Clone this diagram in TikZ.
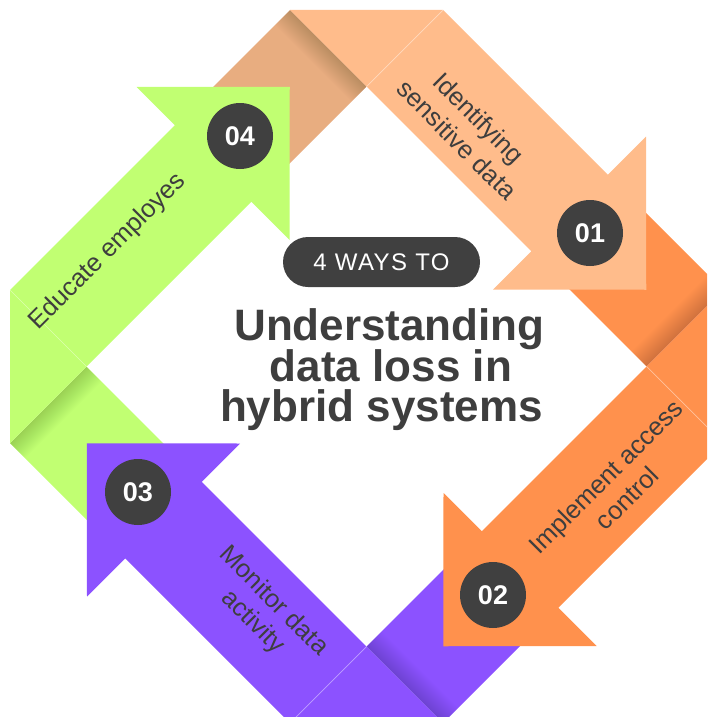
\documentclass[tikz,border=0pt]{standalone}
\usepackage{fontspec}
\setmainfont{Liberation Sans}
\newfontfamily\waysfont[LetterSpace=6]{Liberation Sans}
\definecolor{cPeach}{HTML}{FFBC8B}
\definecolor{cTan}{HTML}{E8AD80}
\definecolor{cOrange}{HTML}{FF914D}
\definecolor{cPurple}{HTML}{8C52FF}
\definecolor{cGreen}{HTML}{C1FF72}
\definecolor{cDark}{HTML}{404040}
\definecolor{cText}{HTML}{3E3E3E}
\tikzset{
  badge/.style={circle, fill=cDark, minimum size=66pt, inner sep=0pt, text=white,
    font=\fontsize{27}{27}\selectfont\bfseries},
  steplabel/.style={align=center, text=cText, inner sep=0pt,
    font=\fontsize{25.5}{30}\selectfont},
  titleline/.style={anchor=base, text=cText, inner sep=0pt,
    font=\fontsize{44}{44}\selectfont\bfseries},
  pill/.style={fill=cDark, rounded corners=25pt, minimum width=197pt,
    minimum height=50pt, inner sep=0pt, text=white,
    font=\waysfont\fontsize{24}{24}\selectfont},
  crease/.style={white, opacity=0.45, line width=0.7pt},
  foldshade/.style={black, opacity=0.013},
}
\begin{document}
\begin{tikzpicture}[x=1pt,y=-1pt]
\useasboundingbox (0,0) rectangle (707,717);
\clip (0,0) rectangle (707,717);
\fill[white] (0,0) rectangle (707,717);
% back parts of the ribbons (under the previous arrow head)
\foreach \k/\bc in {0/cTan,1/cOrange,2/cPurple,3/cGreen}{
  \begin{scope}[shift={(366.5pt,-366.5pt)}]
  \begin{scope}[rotate=-90*\k]
  \begin{scope}[x={(0.5pt,0.5pt)},y={(0.5pt,-0.5pt)}]
    \fill[\bc] (80,-433) -- (280,-433) -- (280,-280) -- (80,-280) -- cycle;
    \foreach \t in {2,4,...,30}
      \fill[foldshade] ({280-\t},-433) -- (280,-433) -- (280,-280) -- ({280-\t},-280) -- cycle;
  \end{scope}\end{scope}\end{scope}
}
% front parts with arrow heads
\foreach \k/\fc in {0/cPeach,1/cOrange,2/cPurple,3/cGreen}{
  \begin{scope}[shift={(366.5pt,-366.5pt)}]
  \begin{scope}[rotate=-90*\k]
  \begin{scope}[x={(0.5pt,0.5pt)},y={(0.5pt,-0.5pt)}]
    \fill[\fc] (280,-433) -- (433,-280) -- (433,49.5) -- (509.5,49.5)
      -- (356.5,203) -- (203.5,49.5) -- (280,49.5) -- cycle;
    \draw[crease] (280,-280) -- (433,-280);
  \end{scope}\end{scope}\end{scope}
}
% number badges
\node[badge] (n1) at (590,233) {01};
\node[badge] (n2) at (493,595) {02};
\node[badge] (n3) at (138,492) {03};
\node[badge] (n4) at (240,136) {04};
% step labels
\node[steplabel, rotate=-45] (l1) at (468,129) {Identifying\\sensitive data};
\node[steplabel, rotate=45] (l2) at (616,487) {Implement access\\control};
\node[steplabel, rotate=-45] (l3) at (263,612) {Monitor data\\activity};
\node[steplabel, rotate=45] (l4) at (108,252) {Educate employes};
% centre
\node[pill] (ways) at (381.5,262) {4 WAYS TO};
\node[titleline] (t1) at (389.5,340) {Understanding};
\node[titleline] (t2) at (391,381.5) {data loss in};
\node[titleline] (t3) at (381.5,421.5) {hybrid systems};
\end{tikzpicture}
\end{document}
